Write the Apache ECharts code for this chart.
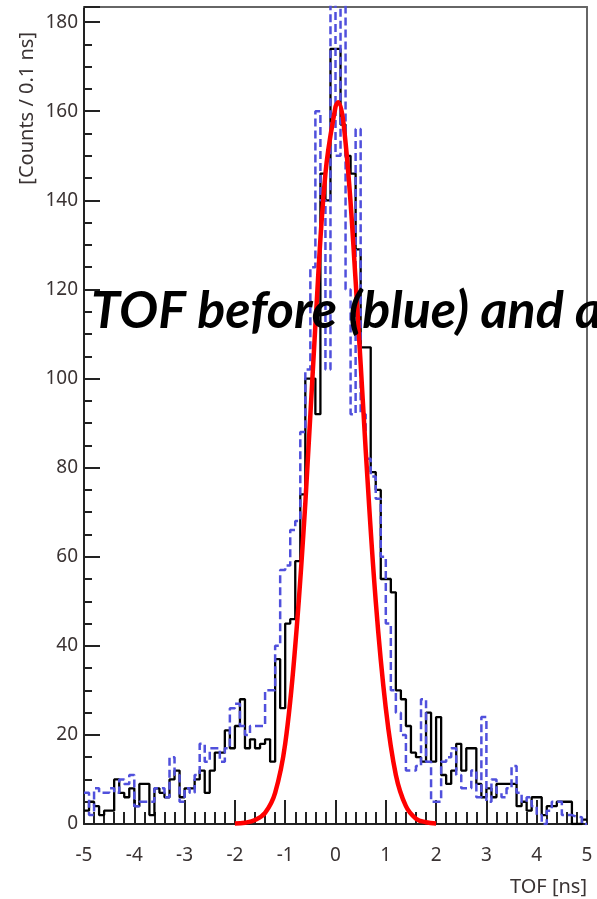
<!DOCTYPE html>
<html><head><meta charset="utf-8">
<script src="https://cdn.jsdelivr.net/npm/echarts@6/dist/echarts.min.js"></script>
<style>html,body{margin:0;padding:0;background:#fff}#c{width:597px;height:899px}</style>
</head><body><div id="c"></div>
<script>
// Histogram bins: 100 bins of 0.1 ns from -5 to 5
const binStart = -5;
const binWidth = 0.1;
// after correction (black, solid)
const afterCounts = [
  3,5,4,2,3,3,10,7,6,8,
  4,9,9,2,8,7,6,10,12,6,
  8,8,10,12,7,12,16,16,21,17,
  22,28,17,19,17,18,19,14,37,26,
  45,46,59,74,100,100,92,146,140,174,
  174,157,150,146,129,107,107,79,75,55,
  55,52,30,28,22,16,15,14,25,14,
  24,11,9,12,18,12,17,17,9,6,
  8,6,9,9,9,9,4,5,3,6,
  6,2,4,4,5,5,5,0,0,1
];
// before correction (blue, dashed)
const beforeCounts = [
  7,2,8,7,7,8,7,10,9,11,
  4,5,5,5,8,8,6,15,11,5,
  8,7,11,18,14,17,17,14,17,26,
  27,22,20,22,22,22,30,30,40,57,
  58,66,68,88,102,125,160,140,102,190,
  150,190,120,92,156,92,82,78,73,60,
  45,30,25,20,12,12,13,28,14,5,
  5,14,15,17,11,8,8,12,6,24,
  5,10,7,6,8,13,7,5,6,4,
  2,0,3,5,5,2,2,1.6,1.5,0
];
// Gaussian fit curve (red)
const fitX = [-2.0,-1.8,-1.6,-1.4,-1.2,-1.0,-0.8,-0.6,-0.4,-0.2,0.0,0.05,0.2,0.4,0.6,0.8,1.0,1.2,1.4,1.6,1.8,2.0];
const fitY = [0.1,0.3,0.9,2.5,7,18,40,72,112,146,161,162,153,122,84,50,26,11,4,1.2,0.4,0.1];

const xMin = -5, xMax = 5, xStep = 1;
const yMin = 0, yMax = 183.4, yStep = 20;

function toSteps(vals){
  const d = vals.map((v,i)=>[+(binStart + i*binWidth).toFixed(2), v]);
  d.push([+(binStart + vals.length*binWidth).toFixed(2), vals[vals.length-1]]);
  return d;
}

const labelFont = 'Noto Sans';
const chart = echarts.init(document.getElementById('c'), null, {renderer:'canvas'});
chart.setOption({
  animation:false,
  backgroundColor:'#ffffff',
  grid:{left:84, right:10, top:7, bottom:75, containLabel:false},
  xAxis:[{
    type:'value', min:xMin, max:xMax, interval:xStep,
    axisLine:{show:true, onZero:false, lineStyle:{color:'#222', width:2}},
    axisTick:{show:true, inside:true, length:24, lineStyle:{color:'#222', width:2}},
    minorTick:{show:true, splitNumber:5, length:12, lineStyle:{color:'#222', width:2}},
    splitLine:{show:false},
    axisLabel:{color:'#3a3333', fontFamily:labelFont, fontSize:19, margin:22}
  },{
    type:'value', min:xMin, max:xMax, position:'top',
    axisLine:{show:true, onZero:false, lineStyle:{color:'#666', width:2}},
    axisTick:{show:false}, axisLabel:{show:false}, splitLine:{show:false}
  }],
  yAxis:[{
    type:'value', min:yMin, max:yMax, interval:yStep,
    axisLine:{show:true, onZero:false, lineStyle:{color:'#222', width:2}},
    axisTick:{show:true, inside:true, length:16, lineStyle:{color:'#222', width:2}},
    minorTick:{show:true, splitNumber:4, length:8, lineStyle:{color:'#222', width:2}},
    splitLine:{show:false},
    axisLabel:{color:'#3a3333', fontFamily:labelFont, fontSize:19, margin:6, showMaxLabel:false}
  },{
    type:'value', min:yMin, max:yMax, position:'right',
    axisLine:{show:true, onZero:false, lineStyle:{color:'#666', width:2}},
    axisTick:{show:false}, axisLabel:{show:false}, splitLine:{show:false}
  }],
  series:[
    {type:'line', name:'after', data:toSteps(afterCounts), step:'end', symbol:'none',
     lineStyle:{color:'#000', width:2.3}, z:2},
    {type:'line', name:'before', data:toSteps(beforeCounts), step:'end', symbol:'none',
     lineStyle:{color:'#5050dc', width:2.5, type:[8,4]}, z:3},
    {type:'line', name:'fit', data:fitX.map((x,i)=>[x, fitY[i]]), smooth:0.4, symbol:'none',
     lineStyle:{color:'#ff0000', width:4.5}, z:4}
  ],
  graphic:[
    {type:'text', x:27, y:32, rotation:Math.PI/2, z:10,
     style:{text:'[Counts / 0.1 ns]', fill:'#3a3333', font:'20px "Noto Sans"', align:'right', verticalAlign:'middle'}},
    {type:'text', x:587, y:887, z:10,
     style:{text:'TOF [ns]', fill:'#3a3333', font:'20px "Noto Sans"', align:'right', verticalAlign:'middle'}},
    {type:'text', x:91, y:311, z:20,
     style:{text:'TOF before (blue) and after (black)', fill:'#000', font:'italic bold 52px Lato', align:'left', verticalAlign:'middle'}}
  ]
});
</script></body></html>
